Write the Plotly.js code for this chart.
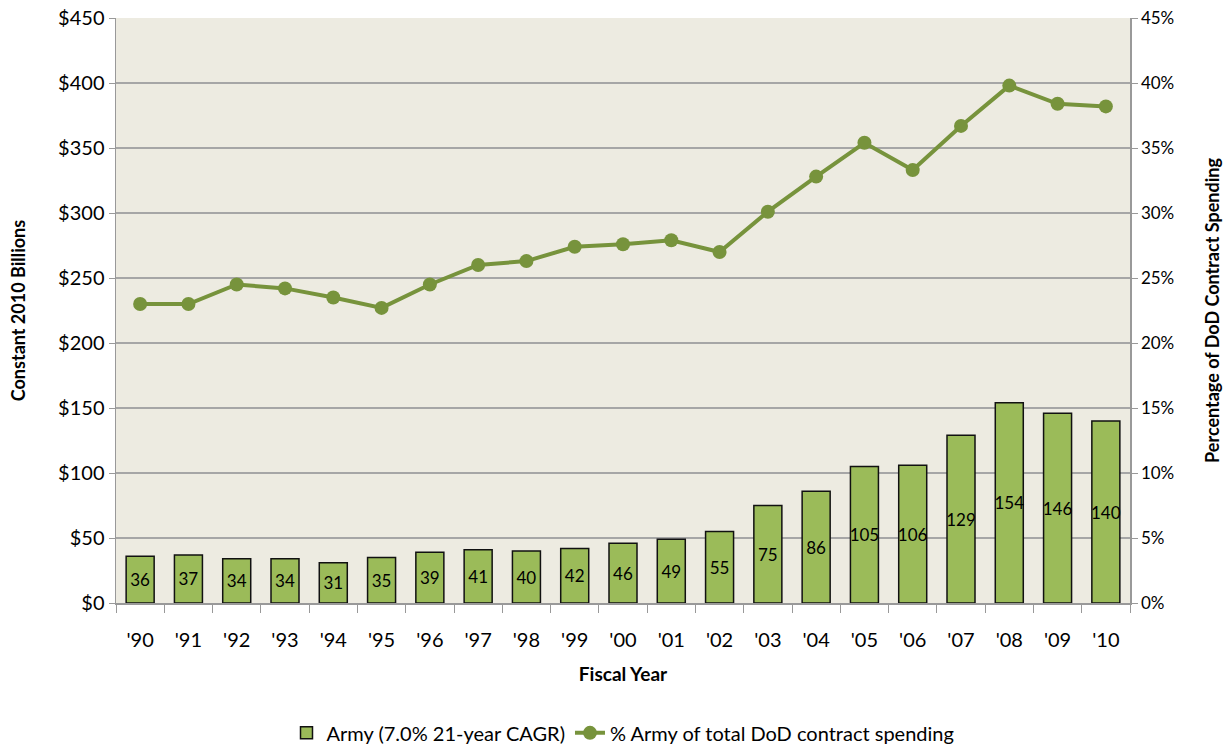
<!DOCTYPE html>
<html>
<head>
<meta charset="utf-8">
<script src="https://cdn.plot.ly/plotly-3.0.1.min.js"></script>
<style>html,body{margin:0;padding:0;background:#fff;}#chart{width:1229px;height:747px;}</style>
</head>
<body>
<div id="chart"></div>
<script>
var years = ["'90","'91","'92","'93","'94","'95","'96","'97","'98","'99","'00","'01","'02","'03","'04","'05","'06","'07","'08","'09","'10"];
var armySpending = [36,37,34,34,31,35,39,41,40,42,46,49,55,75,86,105,106,129,154,146,140];
var armyShare = [23.0,23.0,24.5,24.2,23.5,22.7,24.5,26.0,26.3,27.4,27.6,27.9,27.0,30.1,32.8,35.4,33.3,36.7,39.8,38.4,38.2];
var barName = "Army (7.0% 21-year CAGR)";
var lineName = "% Army of total DoD contract spending";

var font = "Lato, 'Open Sans', sans-serif";

var bars = {
  type: 'bar', x: years, y: armySpending, name: barName,
  text: armySpending.map(String), textposition: 'inside', insidetextanchor: 'middle',
  textangle: 0, constraintext: 'none',
  textfont: {family: font, size: 17, color: '#000'},
  marker: {color: '#9BBB59', line: {color: '#111', width: 1.5}},
  hoverinfo: 'x+y'
};
var line = {
  type: 'scatter', mode: 'lines+markers', x: years, y: armyShare, yaxis: 'y2', name: lineName,
  line: {color: '#77933C', width: 4},
  marker: {color: '#77933C', size: 14}
};

var layout = {
  width: 1229, height: 747,
  margin: {l: 116, r: 99, t: 18, b: 144, autoexpand: false},
  paper_bgcolor: '#fff', plot_bgcolor: '#EDEBE1',
  font: {family: font, color: '#000'},
  bargap: 0.42,
  showlegend: true,
  legend: {orientation: 'h', x: 0.5, xanchor: 'center', y: -0.222, yanchor: 'middle',
           font: {size: 20, family: font}, traceorder: 'normal'},
  xaxis: {
    type: 'category', range: [-0.5, 20.5], autorange: false, automargin: false,
    tickfont: {size: 20}, showgrid: false,
    showline: true, linecolor: '#999', linewidth: 1.5,
    ticks: 'outside', ticklen: 8, tickcolor: '#999', tickson: 'boundaries',
    ticklabelstandoff: 18,
    title: {text: 'Fiscal Year', font: {size: 19, family: font, weight: 'bold'}, standoff: 18}
  },
  yaxis: {
    range: [0, 450], dtick: 50, tickprefix: '$', tickfont: {size: 20}, automargin: false,
    showgrid: true, gridcolor: '#A6A6A6', gridwidth: 1.5,
    showline: true, linecolor: '#999', linewidth: 1.5,
    ticks: 'outside', ticklen: 6, tickcolor: '#999', zeroline: false,
    title: {text: 'Constant 2010 Billions', font: {size: 18, family: font, weight: 'bold'}, standoff: 28}
  },
  yaxis2: {
    range: [0, 45], dtick: 5, ticksuffix: '%', overlaying: 'y', side: 'right', automargin: false,
    tickfont: {size: 17}, showgrid: false,
    showline: true, linecolor: '#999', linewidth: 1.5,
    ticks: 'outside', ticklen: 6, tickcolor: '#999', zeroline: false,
    title: {text: 'Percentage of DoD Contract Spending', font: {size: 18, family: font, weight: 'bold'}, standoff: 33}
  }
};

Plotly.newPlot('chart', [bars, line], layout, {displayModeBar: false, staticPlot: true});
</script>
</body>
</html>
